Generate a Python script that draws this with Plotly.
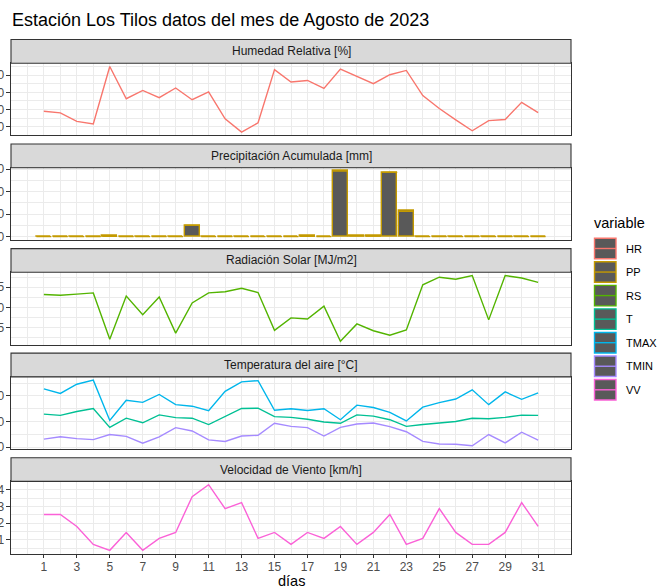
import plotly.graph_objects as go

# ---------------- data ----------------
days = list(range(1, 32))

HR = [69.0, 68.1, 63.1, 61.7, 95.0, 76.3, 81.1, 76.9, 82.5, 75.7,
      80.2, 64.6, 56.9, 62.3, 93.2, 86.0, 86.9, 82.3, 93.5, 89.2,
      85.0, 90.2, 92.7, 78.1, 70.6, 64.0, 57.7, 63.6, 64.2, 74.2, 68.2]

PP = [0, 0, 0, 0, 0.2, 0, 0, 0, 0, 5.0,
      0, 0, 0, 0, 0, 0, 0.2, 0, 29.1, 0.4,
      0.3, 28.5, 11.3, 0, 0, 0, 0, 0, 0, 0, 0]

RS = [13.2, 13.0, 13.3, 13.6, 2.1, 12.8, 8.2, 12.6, 3.6, 11.1,
      13.6, 13.9, 14.75, 13.7, 4.3, 7.4, 7.1, 10.3, 1.6, 5.9,
      4.2, 3.1, 4.4, 15.6, 17.5, 17.0, 17.9, 6.9, 17.9, 17.3, 16.2]

T = [12.9, 12.4, 13.9, 15.1, 7.7, 11.3, 9.5, 12.6, 11.5, 11.3,
     8.8, 12.0, 15.1, 15.2, 11.9, 11.6, 10.9, 9.8, 9.3, 12.6,
     12.1, 10.7, 8.1, 8.8, 9.3, 10.0, 11.3, 11.1, 11.6, 12.5, 12.4]

TMAX = [22.8, 21.0, 24.6, 26.2, 10.4, 18.3, 17.5, 20.6, 16.6, 16.0,
        14.2, 21.8, 25.5, 26.0, 14.4, 15.0, 14.3, 15.0, 10.7, 16.4,
        15.5, 13.6, 10.2, 15.6, 17.4, 18.8, 22.4, 16.6, 21.6, 18.7, 21.2]

TMIN = [3.1, 4.0, 3.3, 2.9, 4.9, 4.2, 1.5, 4.0, 7.6, 6.3,
        2.8, 2.2, 4.3, 4.6, 9.3, 8.1, 7.6, 4.3, 7.7, 9.0,
        9.4, 8.0, 6.0, 2.2, 1.2, 1.1, 0.5, 4.9, 1.6, 5.8, 2.7]

VV = [2.52, 2.52, 1.80, 0.72, 0.36, 1.44, 0.36, 1.08, 1.44, 3.60,
      4.32, 2.88, 3.24, 1.08, 1.44, 0.72, 1.44, 1.08, 1.80, 0.72,
      1.44, 2.52, 0.72, 1.08, 2.88, 1.44, 0.72, 0.72, 1.44, 3.24, 1.80]

variables = ["HR", "PP", "RS", "T", "TMAX", "TMIN", "VV"]
var_colors = ["#F8766D", "#C49A00", "#53B400", "#00C094", "#00B6EB", "#A58AFF", "#FB61D7"]

facet_titles = ["Humedad Relativa [%]", "Precipitación Acumulada [mm]",
                "Radiación Solar [MJ/m2]", "Temperatura del aire [°C]",
                "Velocidad de Viento [km/h]"]
facet_yticks = [[60, 70, 80, 90], [0, 10, 20, 30], [5, 10, 15], [0, 10, 20], [1, 2, 3, 4]]
x_ticks = list(range(1, 32, 2))

title_text = "Estación Los Tilos datos del mes de Agosto de 2023"
x_title = "días"
legend_title = "variable"

series = {"HR": HR, "PP": PP, "RS": RS, "T": T, "TMAX": TMAX, "TMIN": TMIN, "VV": VV}
facet_of = {"HR": 0, "PP": 1, "RS": 2, "T": 3, "TMAX": 3, "TMIN": 3, "VV": 4}
color_of = dict(zip(variables, var_colors))

# ---------------- layout geometry ----------------
W, H = 657, 587
XL, XR = 11, 571
STRIP0, STEP, STRIP_H, PANEL_H = 39.5, 104.55, 23.7, 72.2
FONT = "Liberation Sans, Arial, sans-serif"
BORDER = "#333333"
GRID = "#EBEBEB"


def fx(px):
    return px / W


def fy(py):
    return 1 - py / H


bar_w = 0.9
xlo, xhi = min(days) - bar_w / 2, max(days) + bar_w / 2
xpad = 0.05 * (xhi - xlo)
x_range = [xlo - xpad, xhi + xpad]

fig = go.Figure()
shapes = []
annotations = []

for k in range(5):
    ax_sfx = "" if k == 0 else str(k + 1)
    strip_top = STRIP0 + k * STEP
    panel_top = strip_top + STRIP_H
    panel_bot = panel_top + PANEL_H

    vals = []
    for v in variables:
        if facet_of[v] == k:
            vals += series[v]
    if k == 1:
        vals = vals + [0]
    lo, hi = min(vals), max(vals)
    pad = 0.05 * (hi - lo)
    yt = facet_yticks[k]
    ystep = yt[1] - yt[0]

    last = (k == 4)
    fig.layout["xaxis" + ax_sfx] = dict(
        domain=[fx(XL), fx(XR)], range=x_range, anchor="y" + ax_sfx,
        tickmode="array", tickvals=x_ticks, ticktext=[str(t) for t in x_ticks],
        showticklabels=last, ticks="outside" if last else "", ticklen=3.5,
        tickcolor=BORDER, tickwidth=1.1, ticklabelstandoff=-2,
        tickfont=dict(size=12, color="#4D4D4D", family=FONT),
        showgrid=True, gridcolor=GRID, gridwidth=1.2,
        minor=dict(tick0=0, dtick=1, showgrid=True, gridcolor=GRID, gridwidth=0.6),
        showline=True, mirror=True, linecolor=BORDER, linewidth=1.1,
        zeroline=False, automargin=False, fixedrange=True,
    )
    fig.layout["yaxis" + ax_sfx] = dict(
        domain=[fy(panel_bot), fy(panel_top)], range=[lo - pad, hi + pad],
        anchor="x" + ax_sfx,
        tickmode="array", tickvals=yt, ticktext=[str(t) for t in yt],
        ticks="outside", ticklen=3.5, tickcolor=BORDER, tickwidth=1.1,
        tickfont=dict(size=12, color="#4D4D4D", family=FONT),
        showgrid=True, gridcolor=GRID, gridwidth=1.2,
        minor=dict(tick0=yt[0] - ystep / 2, dtick=ystep / 2, showgrid=True,
                   gridcolor=GRID, gridwidth=0.6),
        showline=True, mirror=True, linecolor=BORDER, linewidth=1.1,
        zeroline=False, automargin=False, fixedrange=True,
    )

    shapes.append(dict(type="rect", xref="paper", yref="paper",
                       x0=fx(XL), x1=fx(XR), y0=fy(panel_top), y1=fy(strip_top),
                       fillcolor="#D9D9D9", line=dict(color=BORDER, width=1.1),
                       layer="above"))
    annotations.append(dict(text=facet_titles[k], xref="paper", yref="paper",
                            x=fx((XL + XR) / 2), y=fy(strip_top + STRIP_H / 2),
                            xanchor="center", yanchor="middle", showarrow=False,
                            font=dict(size=12, color="#1A1A1A", family=FONT)))

# ---------------- traces ----------------
for v in variables:
    k = facet_of[v]
    ax_sfx = "" if k == 0 else str(k + 1)
    if v == "PP":
        fig.add_trace(go.Bar(
            x=days, y=series[v], width=bar_w, xaxis="x" + ax_sfx, yaxis="y" + ax_sfx,
            marker=dict(color="#595959", line=dict(color=color_of[v], width=1.4)),
            showlegend=False, name=v))
        sx, sy = [], []
        for d, val in zip(days, series[v]):
            sx += [d - bar_w / 2, d + bar_w / 2, None]
            sy += [val, val, None]
        fig.add_trace(go.Scatter(x=sx, y=sy, mode="lines", xaxis="x" + ax_sfx,
                                 yaxis="y" + ax_sfx,
                                 line=dict(color=color_of[v], width=1.4),
                                 showlegend=False, hoverinfo="skip"))
    else:
        fig.add_trace(go.Scatter(
            x=days, y=series[v], mode="lines", xaxis="x" + ax_sfx, yaxis="y" + ax_sfx,
            line=dict(color=color_of[v], width=1.4), showlegend=False, name=v))

# ---------------- titles ----------------
annotations.append(dict(text=title_text, xref="paper", yref="paper",
                        x=fx(XL - 1), y=fy(20), xanchor="left", yanchor="middle",
                        showarrow=False, font=dict(size=18, color="black", family=FONT)))
annotations.append(dict(text=x_title, xref="paper", yref="paper",
                        x=fx((XL + XR) / 2), y=fy(580.5), xanchor="center", yanchor="middle",
                        showarrow=False, font=dict(size=14.5, color="black", family=FONT)))

# ---------------- manual legend ----------------
annotations.append(dict(text=legend_title, xref="paper", yref="paper",
                        x=fx(592), y=fy(223), xanchor="left", yanchor="middle",
                        showarrow=False, font=dict(size=14.5, color="black", family=FONT)))
KX0, KX1, KH, KY0, KSTEP = 594.5, 616, 20.5, 248.5, 23.55
for i, v in enumerate(variables):
    yc = KY0 + i * KSTEP
    shapes.append(dict(type="rect", xref="paper", yref="paper",
                       x0=fx(KX0), x1=fx(KX1), y0=fy(yc + KH / 2), y1=fy(yc - KH / 2),
                       fillcolor="#595959", line=dict(color=color_of[v], width=1.4)))
    shapes.append(dict(type="line", xref="paper", yref="paper",
                       x0=fx(KX0), x1=fx(KX1), y0=fy(yc), y1=fy(yc),
                       line=dict(color=color_of[v], width=1.4)))
    annotations.append(dict(text=v, xref="paper", yref="paper",
                            x=fx(624), y=fy(yc), xanchor="left", yanchor="middle",
                            showarrow=False, font=dict(size=11, color="black", family=FONT)))

fig.update_layout(
    template="none",
    width=W, height=H,
    margin=dict(l=0, r=0, t=0, b=0, autoexpand=False),
    paper_bgcolor="white", plot_bgcolor="white",
    font=dict(family=FONT),
    shapes=shapes, annotations=annotations,
    showlegend=False, bargap=0,
)

fig.write_html("out.html", config={"displayModeBar": False},
               post_script="document.body.style.margin='0';document.body.style.padding='0';")
